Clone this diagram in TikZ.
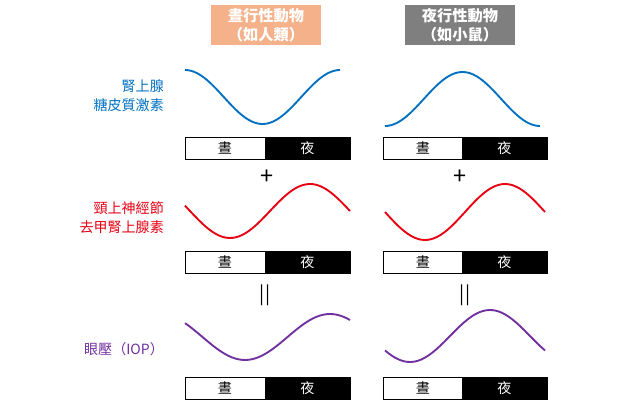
\documentclass[tikz,border=0pt]{standalone}
\usepackage{fontspec}
\setmainfont{Noto Sans CJK TC}
\usetikzlibrary{positioning}
\definecolor{headsalmon}{RGB}{244,177,138}
\definecolor{headgray}{RGB}{127,127,127}
\definecolor{curveblue}{RGB}{0,112,192}
\definecolor{curvered}{RGB}{230,0,18}
\definecolor{curvepurple}{RGB}{112,48,160}
\tikzset{
  head/.style={text=white, font=\bfseries\fontsize{13}{16}\selectfont, align=center, minimum width=3.3cm, minimum height=1.2cm, inner sep=0pt},
  daybox/.style={draw=black, thick, fill=white, minimum width=2.4cm, minimum height=0.66cm, inner sep=0pt, font=\fontsize{12}{14}\selectfont},
  nightbox/.style={draw=black, thick, fill=black, text=white, minimum width=2.55cm, minimum height=0.66cm, inner sep=0pt, font=\fontsize{12}{14}\selectfont},
  curve/.style={line width=1.6pt},
  rowlabel/.style={align=right, anchor=east, font=\fontsize{12}{16}\selectfont}
}
\begin{document}
\begin{tikzpicture}[x=0.03cm, y=-0.03cm]
    \useasboundingbox (0,0) rectangle (624,400);
    % Headers
    \node[head, fill=headsalmon] (hdiurnal) at (266,25) {晝行性動物\\（如人類）};
    \node[head, fill=headgray] (hnocturnal) at (460,25) {夜行性動物\\（如小鼠）};

    % Row labels
    \node[rowlabel, text=curveblue] (lglucocort) at (168,96) {腎上腺\\糖皮質激素};
    \node[rowlabel, text=curvered] (lnorepi) at (168,218) {頸上神經節\\去甲腎上腺素};
    \node[rowlabel, text=curvepurple] (liop) at (168,349) {眼壓（IOP）};

    % Day/night bars
    \foreach \row/\y in {a/148, b/262, c/388} {
        \node[daybox] (dayL\row) at (225,\y) {晝};
        \node[nightbox] (nightL\row) at (307.5,\y) {夜};
        \node[daybox] (dayR\row) at (423,\y) {晝};
        \node[nightbox] (nightR\row) at (504.5,\y) {夜};
    }

    % Operators
    \node[font=\fontsize{20}{20}\selectfont] (plusL) at (267,177) {+};
    \node[font=\fontsize{20}{20}\selectfont] (plusR) at (460,177) {+};
    \node[font=\fontsize{16}{16}\selectfont] (eqL) at (265,295) {||};
    \node[font=\fontsize{16}{16}\selectfont] (eqR) at (465,295) {||};

    % Glucocorticoid curves
    \draw[curve, curveblue] plot[domain=185:340, samples=50, smooth] (\x, {97-27*cos((\x-185)/155*360)});
    \draw[curve, curveblue] plot[domain=385:540, samples=50, smooth] (\x, {99+27*cos((\x-385)/155*360)});

    % Norepinephrine curves
    \draw[curve, curvered] plot[domain=185:350, samples=50, smooth] (\x, {211-27*cos((\x-310)/160*360)});
    \draw[curve, curvered] plot[domain=385:545, samples=50, smooth] (\x, {212-28*cos((\x-505)/160*360)});

    % IOP curves
    \draw[curve, curvepurple] plot[domain=185:350, samples=50, smooth] (\x, {337-23*cos((\x-330)/170*360)});
    \draw[curve, curvepurple] plot[domain=385:545, samples=50, smooth] (\x, {336-26*cos((\x-490)/160*360)});
\end{tikzpicture}
\end{document}
